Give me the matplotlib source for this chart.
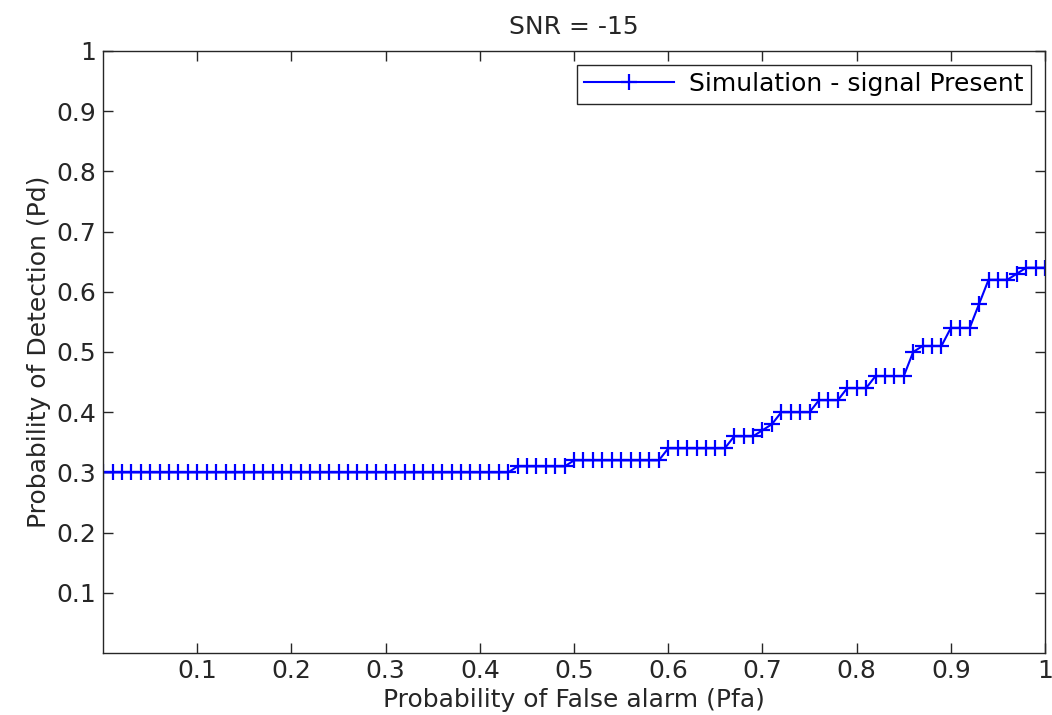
import matplotlib
matplotlib.use("Agg")
import matplotlib.pyplot as plt

pfa = [0.00, 0.01, 0.02, 0.03, 0.04, 0.05, 0.06, 0.07, 0.08, 0.09,
       0.10, 0.11, 0.12, 0.13, 0.14, 0.15, 0.16, 0.17, 0.18, 0.19,
       0.20, 0.21, 0.22, 0.23, 0.24, 0.25, 0.26, 0.27, 0.28, 0.29,
       0.30, 0.31, 0.32, 0.33, 0.34, 0.35, 0.36, 0.37, 0.38, 0.39,
       0.40, 0.41, 0.42, 0.43, 0.44, 0.45, 0.46, 0.47, 0.48, 0.49,
       0.50, 0.51, 0.52, 0.53, 0.54, 0.55, 0.56, 0.57, 0.58, 0.59,
       0.60, 0.61, 0.62, 0.63, 0.64, 0.65, 0.66, 0.67, 0.68, 0.69,
       0.70, 0.71, 0.72, 0.73, 0.74, 0.75, 0.76, 0.77, 0.78, 0.79,
       0.80, 0.81, 0.82, 0.83, 0.84, 0.85, 0.86, 0.87, 0.88, 0.89,
       0.90, 0.91, 0.92, 0.93, 0.94, 0.95, 0.96, 0.97, 0.98, 0.99,
       1.00]

pd_sim = [0.30, 0.30, 0.30, 0.30, 0.30, 0.30, 0.30, 0.30, 0.30, 0.30,
          0.30, 0.30, 0.30, 0.30, 0.30, 0.30, 0.30, 0.30, 0.30, 0.30,
          0.30, 0.30, 0.30, 0.30, 0.30, 0.30, 0.30, 0.30, 0.30, 0.30,
          0.30, 0.30, 0.30, 0.30, 0.30, 0.30, 0.30, 0.30, 0.30, 0.30,
          0.30, 0.30, 0.30, 0.30, 0.31, 0.31, 0.31, 0.31, 0.31, 0.31,
          0.32, 0.32, 0.32, 0.32, 0.32, 0.32, 0.32, 0.32, 0.32, 0.32,
          0.34, 0.34, 0.34, 0.34, 0.34, 0.34, 0.34, 0.36, 0.36, 0.36,
          0.37, 0.38, 0.40, 0.40, 0.40, 0.40, 0.42, 0.42, 0.42, 0.44,
          0.44, 0.44, 0.46, 0.46, 0.46, 0.46, 0.50, 0.51, 0.51, 0.51,
          0.54, 0.54, 0.54, 0.58, 0.62, 0.62, 0.62, 0.63, 0.64, 0.64,
          0.64]

ticks = [0.1, 0.2, 0.3, 0.4, 0.5, 0.6, 0.7, 0.8, 0.9, 1]
tick_labels = ["0.1", "0.2", "0.3", "0.4", "0.5", "0.6", "0.7", "0.8", "0.9", "1"]

plt.rcParams['font.family'] = ['DejaVu Sans']
FS = 18

fig = plt.figure(figsize=(10.52, 7.15), dpi=100)
ax = fig.add_axes([0.098, 0.0867, 0.8954, 0.842])

ax.plot(pfa, pd_sim, color='#0000ff', lw=1.5, marker='+', ms=12, mew=1.6,
        label='Simulation - signal Present')

ax.set_xlim(0, 1)
ax.set_ylim(0, 1)
ax.set_xticks(ticks)
ax.set_xticklabels(tick_labels)
ax.set_yticks(ticks)
ax.set_yticklabels(tick_labels)
ax.tick_params(direction='in', length=7, width=1, top=True, right=True,
               labelsize=FS, colors='#262626', pad=5)
ax.tick_params(axis='x', pad=4)
for s in ax.spines.values():
    s.set_linewidth(1.0)
    s.set_color('#262626')

ax.set_title('SNR = -15', fontsize=FS, color='#262626', pad=12)
ax.set_xlabel('Probability of False alarm (Pfa)', fontsize=FS, color='#262626', labelpad=4)
ax.set_ylabel('Probability of Detection (Pd)', fontsize=FS, color='#262626', labelpad=4)

leg = ax.legend(loc='upper right', fontsize=FS, fancybox=False, framealpha=1,
                edgecolor='#262626', borderpad=0.3, handlelength=3.6,
                handletextpad=0.6, borderaxespad=0.55)
leg.get_frame().set_linewidth(1.0)

fig.savefig('out.png', dpi=100)
